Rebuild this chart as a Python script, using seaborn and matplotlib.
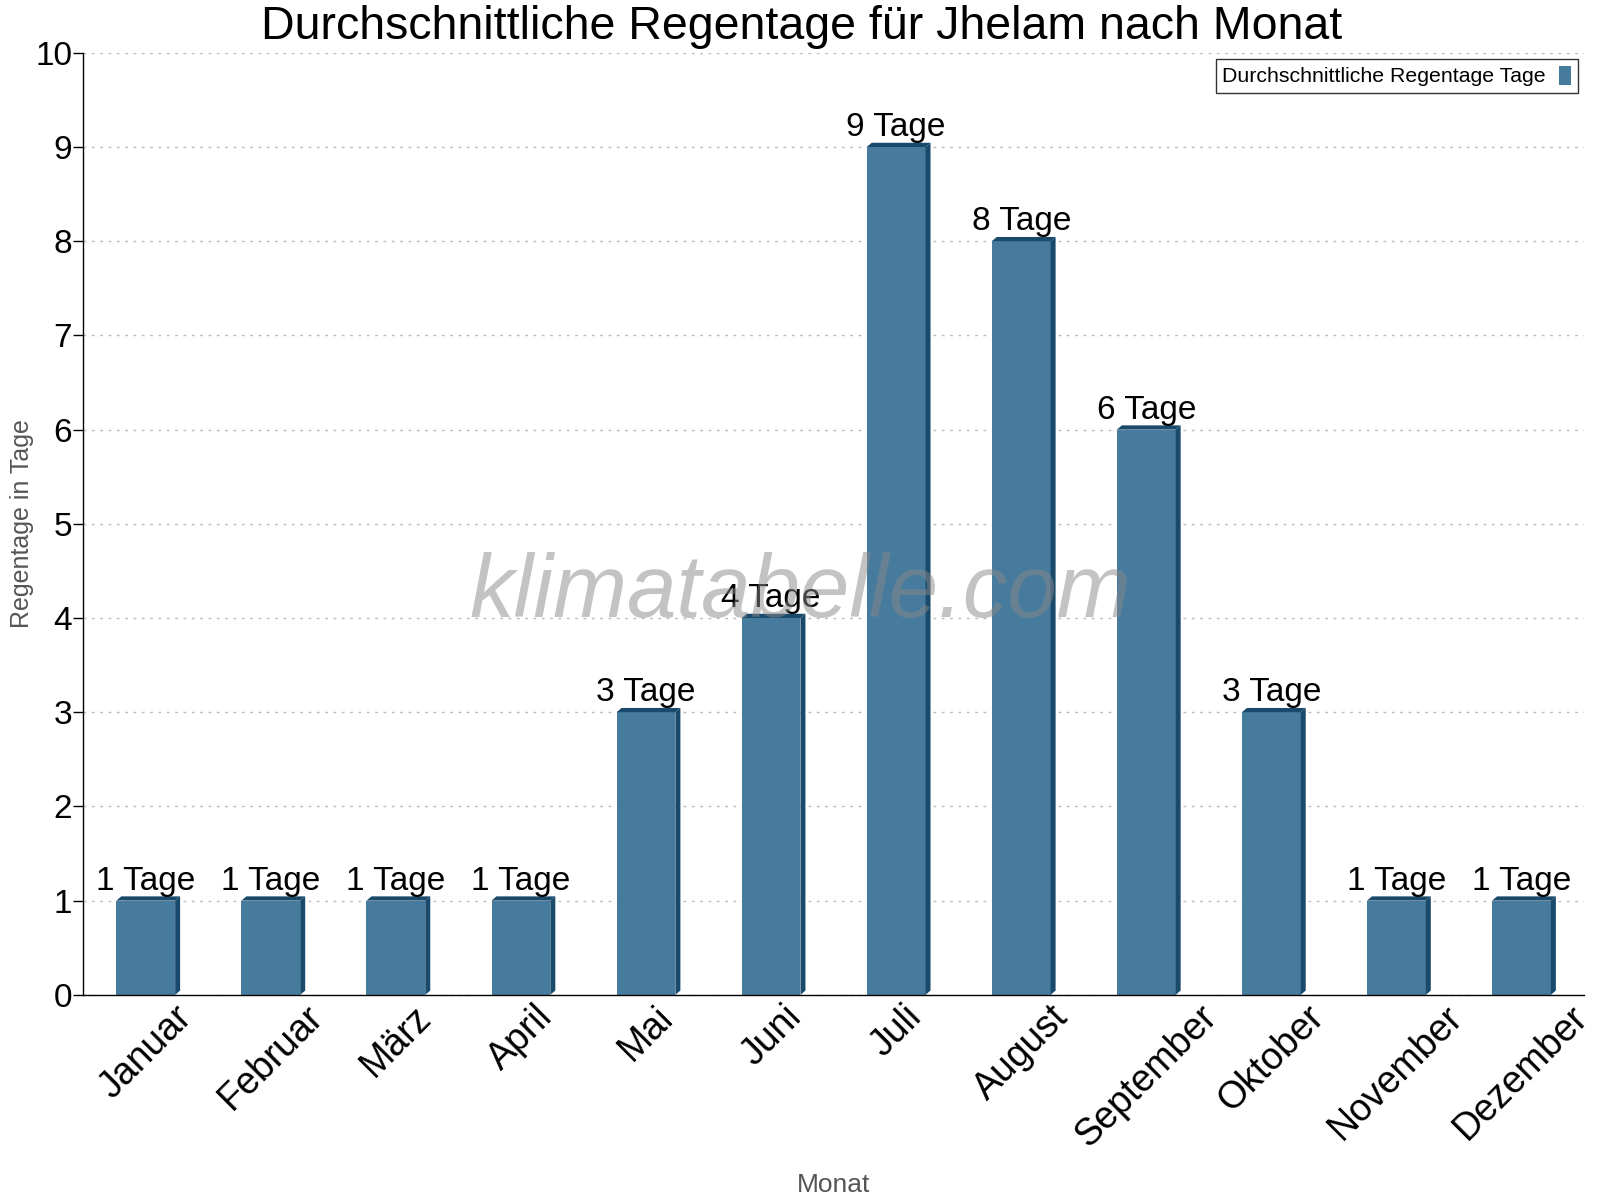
import pandas as pd
import matplotlib.pyplot as plt
from matplotlib.patches import Polygon
import seaborn as sns

monate = ['Januar', 'Februar', 'März', 'April', 'Mai', 'Juni', 'Juli',
          'August', 'September', 'Oktober', 'November', 'Dezember']
regentage = [1, 1, 1, 1, 3, 4, 9, 8, 6, 3, 1, 1]

df = pd.DataFrame({'Monat': monate, 'Regentage': regentage})

sns.set_style("white")
plt.rcParams['font.family'] = ['Liberation Sans', 'DejaVu Sans']
plt.rcParams['text.color'] = 'black'
plt.rcParams['xtick.color'] = 'black'
plt.rcParams['ytick.color'] = 'black'

face = '#467b9d'
dark = '#1a4a6b'

fig = plt.figure(figsize=(16, 12), dpi=100)
ax = fig.add_axes([0.052, 0.171, 0.938, 0.785])
sns.barplot(data=df, x='Monat', y='Regentage', color=face, width=0.47,
            saturation=1, ax=ax, label='Durchschnittliche Regentage Tage')

# pseudo 3D: top and right side of each bar
dx, dy = 0.04, 0.045
for p in ax.patches:
    p.set_edgecolor('none')
    x0 = p.get_x()
    x1 = x0 + p.get_width()
    h = p.get_height()
    ax.add_patch(Polygon([(x0, h), (x0 + dx, h + dy), (x1 + dx, h + dy), (x1, h)],
                         closed=True, facecolor=dark, edgecolor='none', zorder=3))
    ax.add_patch(Polygon([(x1, 0), (x1 + dx, dy), (x1 + dx, h + dy), (x1, h)],
                         closed=True, facecolor=dark, edgecolor='none', zorder=3))
    ax.text(x0 + p.get_width() / 2, h + 0.04, f'{int(h)} Tage', ha='center', va='bottom',
            fontsize=24, color='black', zorder=4)

ax.set_xlim(-0.5, len(monate) - 0.5)
ax.set_ylim(0, 10)
ax.set_yticks(range(0, 11))
ax.yaxis.grid(True, linestyle=(0, (2, 4)), color='#bbbbbb', linewidth=1)
ax.set_axisbelow(True)

ax.set_xticks(range(len(monate)))
ax.set_xticklabels(monate, rotation=45, ha='center', fontsize=27)
ax.set_xticks([i + 0.5 for i in range(-1, len(monate))], minor=True)
ax.tick_params(axis='x', which='major', length=0, pad=3)
ax.tick_params(axis='x', which='minor', length=8, width=1, color='black', direction='out')
ax.tick_params(axis='y', length=7, width=1, color='black', direction='out', labelsize=24, pad=1)
ax.tick_params(bottom=True, left=True)

for s in ['top', 'right']:
    ax.spines[s].set_visible(False)
for s in ['left', 'bottom']:
    ax.spines[s].set_color('black')
    ax.spines[s].set_linewidth(1)

ax.set_xlabel('Monat', fontsize=19, color='#555555')
ax.set_ylabel('Regentage in Tage', fontsize=18, color='#555555')
ax.xaxis.set_label_coords(0.5, -0.189)
ax.yaxis.set_label_coords(-0.033, 0.5)
ax.set_title('Durchschnittliche Regentage für Jhelam nach Monat', fontsize=33.5,
             x=0.479, y=1.015, pad=0)

leg = ax.legend(loc='upper right', markerfirst=False, fontsize=15.3, frameon=True,
                fancybox=False, edgecolor='black', handlelength=0.6, handleheight=1.0,
                borderaxespad=0.3, borderpad=0.3, handletextpad=0.6)
leg.get_frame().set_linewidth(1)
for t in leg.get_texts():
    t.set_color('black')

fig.text(0.5, 0.505, 'klimatabelle.com', fontsize=64, style='italic',
         color='#888888', alpha=0.5, ha='center', va='center', zorder=10)

plt.savefig('out.png', dpi=100)
